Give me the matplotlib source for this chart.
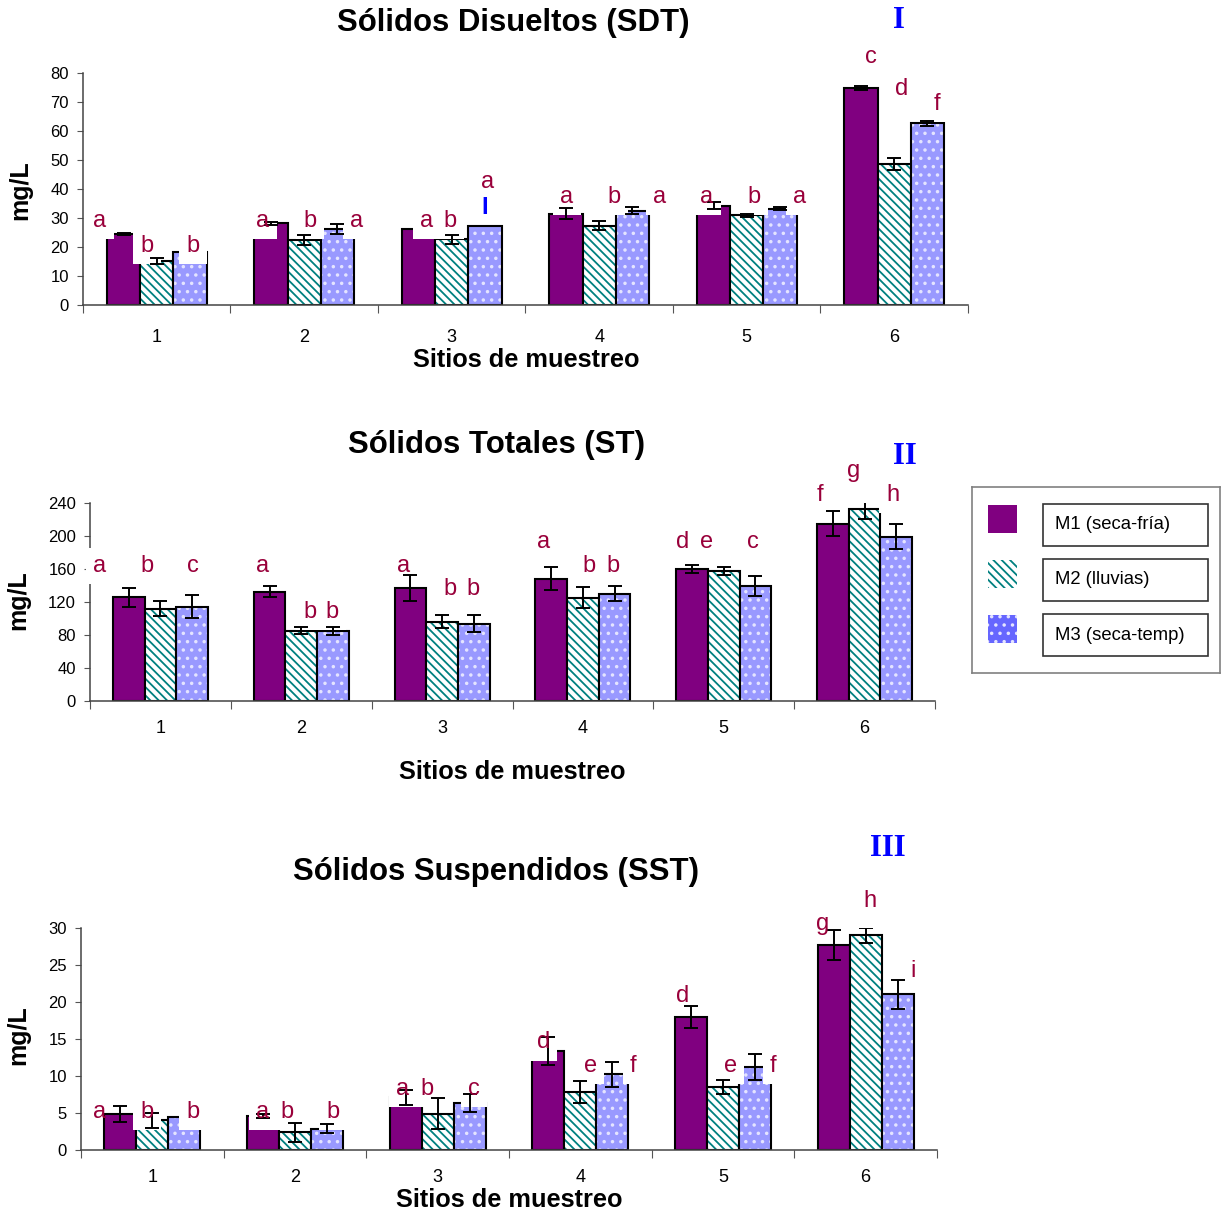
import matplotlib
matplotlib.use('Agg')
import matplotlib.pyplot as plt
import numpy as np
from matplotlib.patches import Rectangle

plt.rcParams['font.family'] = ['Liberation Sans', 'DejaVu Sans']
plt.rcParams['hatch.linewidth'] = 1.3

sites = ['1', '2', '3', '4', '5', '6']
series = ['M1 (seca-fría)', 'M2 (lluvias)', 'M3 (seca-temp)']

# I - Solidos disueltos
sdt_m1 = [24.5, 28.2, 26.2, 31.5, 34.3, 74.8]
sdt_m2 = [15.2, 22.5, 22.6, 27.3, 31.0, 48.6]
sdt_m3 = [18.2, 26.2, 27.3, 32.5, 33.2, 62.6]
sdt_e1 = [0.4, 0.5, 0, 2.0, 1.2, 0.7]
sdt_e2 = [1.0, 1.8, 1.6, 1.5, 0.5, 2.2]
sdt_e3 = [0, 1.6, 0, 1.2, 0.6, 0.8]
sdt_lab = ['a', 'b', 'b', 'a', 'b', 'a', 'a', 'b', 'a', 'a', 'b', 'a', 'a', 'b', 'a', 'c', 'd', 'f']
sdt_lab_x = [0.615, 0.934, 1.246, 1.72, 2.039, 2.358, 2.832, 2.988, 3.246,
             3.781, 4.1, 4.41, 4.73, 5.05, 5.36, 5.84, 6.05, 6.29]
sdt_lab_y = [26.9, 18.3, 18.3, 26.9, 26.9, 26.9, 26.9, 26.9, 40.3,
             35.2, 35.2, 35.2, 35.2, 35.2, 35.2, 83.4, 72.4, 67.2]
sdt_cover = [1] * 18

# II - Solidos totales
st_m1 = [125.6, 132.4, 136.6, 148.3, 160.0, 214.7]
st_m2 = [111.8, 85.0, 96.0, 125.2, 157.6, 233.0]
st_m3 = [113.8, 84.7, 93.6, 130.0, 139.3, 198.9]
st_e1 = [11.5, 7, 16, 14, 4.5, 15]
st_e2 = [9, 4.5, 7.5, 12.8, 4.7, 12]
st_e3 = [14, 5, 10, 9.5, 11.7, 15]
st_lab = ['a', 'b', 'c', 'a', 'b', 'b', 'a', 'b', 'b', 'a', 'b', 'b', 'd', 'e', 'c', 'f', 'g', 'h']
st_lab_x = [0.571, 0.904, 1.23, 1.727, 2.06, 2.22, 2.727, 3.053, 3.223,
            3.72, 4.046, 4.216, 4.71, 4.876, 5.21, 5.68, 5.92, 6.2]
st_lab_y = [156.4, 156.4, 156.4, 156.4, 100.1, 100.1, 156.4, 128.4, 128.4,
            185.2, 156.8, 156.8, 185.2, 185.2, 185.2, 242.7, 271.4, 242.7]
st_cover = [1] * 18

# III - Solidos suspendidos
sst_m1 = [4.9, 4.6, 7.1, 13.4, 18.0, 27.7]
sst_m2 = [4.0, 2.4, 4.9, 7.8, 8.5, 29.0]
sst_m3 = [4.4, 2.9, 6.3, 10.2, 11.2, 21.0]
sst_e1 = [1.1, 0.3, 1.0, 1.9, 1.5, 2.0]
sst_e2 = [1.0, 1.3, 2.1, 1.5, 1.0, 1.0]
sst_e3 = [0, 0.6, 1.2, 1.7, 1.7, 2.0]
sst_lab = ['a', 'b', 'b', 'a', 'b', 'b', 'a', 'b', 'c', 'd', 'e', 'f', 'd', 'e', 'f', 'g', 'h', 'i']
sst_lab_x = [0.633, 0.963, 1.285, 1.776, 1.945, 2.267, 2.755, 2.926, 3.256,
             3.74, 4.07, 4.37, 4.72, 5.05, 5.35, 5.70, 6.03, 6.33]
sst_lab_y = [4.28, 4.28, 4.28, 4.28, 4.28, 4.28, 7.42, 7.42, 7.42,
             13.7, 10.57, 10.57, 20.0, 10.57, 10.57, 29.7, 32.75, 23.4]
sst_cover = [0] + [1] * 14 + [0, 1, 1]

C1 = '#800080'
C2 = '#008080'
C3 = '#9999ff'
DOT = '#e4e4ff'
LABC = '#99003a'
HATCH2 = '\\\\\\\\'
HATCH3 = '..'
W, H = 1222, 1211

fig = plt.figure(figsize=(W / 100, H / 100), dpi=100)


def px(x, y):
    return x / W, 1 - y / H


def panel(rect, m1, m2, m3, e1, e2, e3, ymax, ystep, labs, lab_x, lab_y, cover, tpad):
    ax = fig.add_axes(rect)
    x = np.arange(1, 7)
    w = 0.225
    ax.bar(x - w, m1, w, color=C1, edgecolor='black', lw=1.5, zorder=2)
    ax.bar(x, m2, w, facecolor='white', edgecolor=C2, hatch=HATCH2, lw=0, zorder=2)
    ax.bar(x, m2, w, fill=False, edgecolor='black', lw=1.5, zorder=2)
    ax.bar(x + w, m3, w, facecolor=C3, edgecolor=DOT, hatch=HATCH3, lw=0, zorder=2)
    ax.bar(x + w, m3, w, fill=False, edgecolor='black', lw=1.5, zorder=2)
    for off, m, e in [(-w, m1, e1), (0, m2, e2), (w, m3, e3)]:
        for i in range(6):
            if e[i] > 0:
                ax.errorbar(x[i] + off, m[i], yerr=e[i], fmt='none', ecolor='black',
                            elinewidth=1.4, capsize=5, capthick=1.4, zorder=4)
    for t, lx, ly, cv in zip(labs, lab_x, lab_y, cover):
        if cv:
            # white label box, drawn under the error bars
            ax.text(lx, ly, t, color='white', fontsize=17, ha='center', va='baseline',
                    zorder=3, bbox=dict(facecolor='white', edgecolor='none',
                                        boxstyle='square,pad=0.3'))
        ax.text(lx, ly, t, color=LABC, fontsize=17, ha='center', va='baseline', zorder=6)
    ax.set_xlim(0.5, 6.5)
    ax.set_ylim(0, ymax)
    ax.set_yticks(np.arange(0, ymax + 1, ystep))
    ax.set_xticks(np.arange(0.5, 7, 1))
    ax.set_xticklabels([])
    ax.set_xticks(x, minor=True)
    ax.set_xticklabels(sites, minor=True, fontsize=13)
    ax.tick_params(axis='x', which='major', length=6, color='#555555', direction='out')
    ax.tick_params(axis='x', which='minor', length=0, pad=tpad)
    ax.tick_params(axis='y', length=4, color='#555555', labelsize=12, pad=6)
    for s in ['top', 'right']:
        ax.spines[s].set_visible(False)
    for s in ['left', 'bottom']:
        ax.spines[s].set_color('#444444')
        ax.spines[s].set_linewidth(1.1)
    return ax


ax1 = panel([83 / W, 1 - 305 / H, 885 / W, 232 / H], sdt_m1, sdt_m2, sdt_m3,
            sdt_e1, sdt_e2, sdt_e3, 80, 10, sdt_lab, sdt_lab_x, sdt_lab_y, sdt_cover, 17)
ax1.text(3.225, 31.4, 'I', color='#0000ff', fontsize=17, fontweight='bold', ha='center',
         va='baseline', zorder=7)
ax2 = panel([90 / W, 1 - 700.7 / H, 845 / W, 197.7 / H], st_m1, st_m2, st_m3,
            st_e1, st_e2, st_e3, 240, 40, st_lab, st_lab_x, st_lab_y, st_cover, 14)
ax3 = panel([81 / W, 1 - 1150 / H, 856 / W, 222.3 / H], sst_m1, sst_m2, sst_m3,
            sst_e1, sst_e2, sst_e3, 30, 5, sst_lab, sst_lab_x, sst_lab_y, sst_cover, 14)

titles = [('Sólidos Disueltos (SDT)', 513, 23), ('Sólidos Totales (ST)', 497, 445),
          ('Sólidos Suspendidos (SST)', 496, 872)]
for t, tx, ty in titles:
    fig.text(*px(tx, ty), t, fontsize=22.4, fontweight='bold', ha='center', va='center')

for tx, ty in [(526, 360), (512, 772), (509, 1200)]:
    fig.text(*px(tx, ty), 'Sitios de muestreo', fontsize=18.3, fontweight='bold',
             ha='center', va='center')
for tx, ty in [(20, 190), (18, 600), (18, 1035)]:
    fig.text(*px(tx, ty), 'mg/L', fontsize=18, fontweight='bold', rotation=90,
             ha='center', va='center')
for t, tx, ty in [('I', 899, 20), ('II', 905, 456), ('III', 888, 848)]:
    fig.text(*px(tx, ty), t, fontsize=22, fontweight='bold', color='#0000ff',
             family='Liberation Serif', ha='center', va='center')

# legend
lg = fig.add_axes([972 / W, 1 - 673 / H, 248 / W, 186 / H])
lg.set_xlim(0, 248)
lg.set_ylim(186, 0)
lg.set_xticks([])
lg.set_yticks([])
for s in lg.spines.values():
    s.set_color('#808080')
    s.set_linewidth(1.2)
leg_style = [dict(facecolor=C1, edgecolor=C1, lw=0),
             dict(facecolor='white', edgecolor=C2, hatch=HATCH2, lw=0),
             dict(facecolor='#6666ff', edgecolor=DOT, hatch=HATCH3, lw=0)]
for i, (name, st) in enumerate(zip(series, leg_style)):
    y0 = 18 + 55 * i
    lg.add_patch(Rectangle((16, y0), 29, 28, **st))
    lg.add_patch(Rectangle((71, y0 - 1), 165, 42, facecolor='white', edgecolor='#333333', lw=1.2))
    lg.text(83, y0 + 20, name, fontsize=13.3, ha='left', va='center')

fig.savefig('out.png', dpi=100)
